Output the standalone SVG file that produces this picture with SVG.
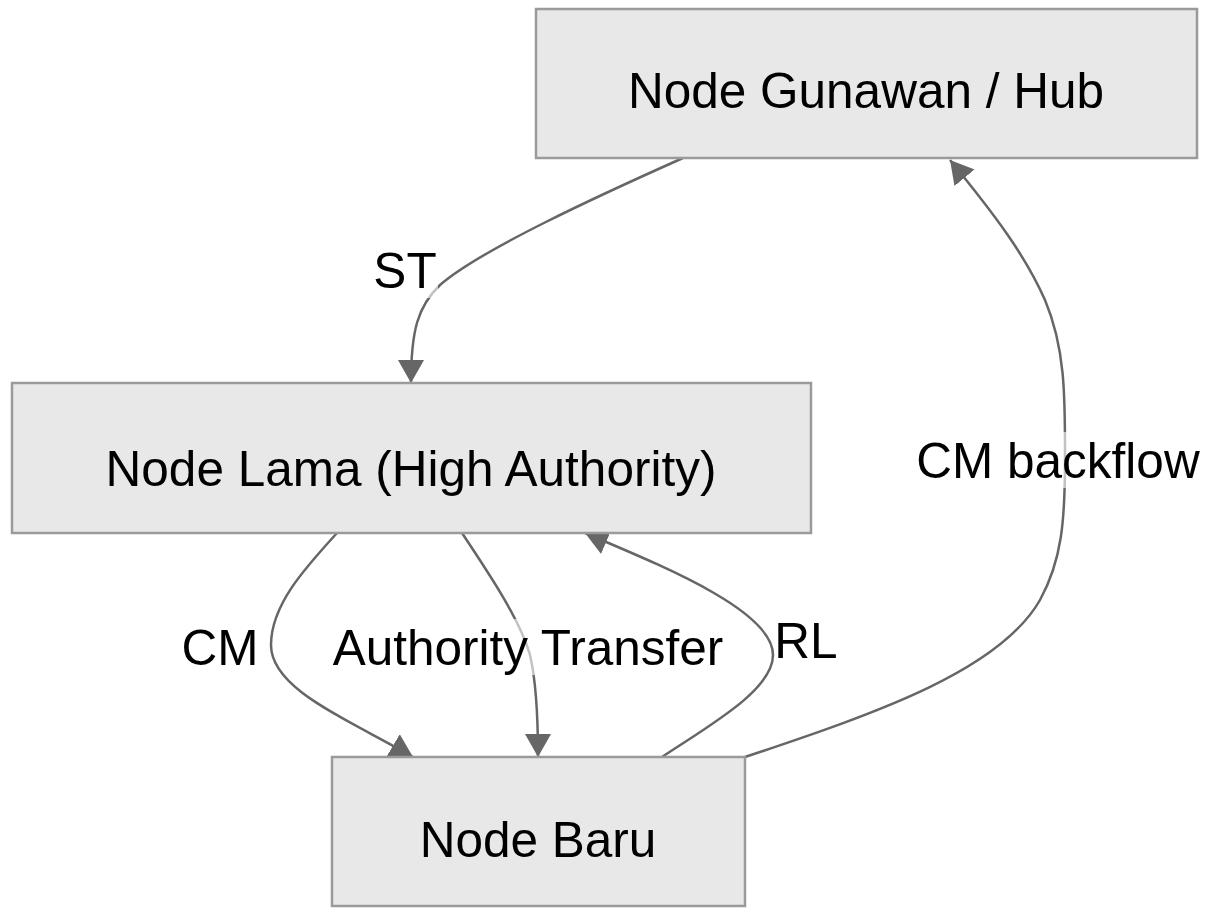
<svg xmlns="http://www.w3.org/2000/svg" width="1209" height="909" viewBox="0 0 1209 909">
<style>
.node rect{fill:#e8e8e8;stroke:#9a9a9a;stroke-width:2.5}
.lbl{font-family:"Liberation Sans",Arial,sans-serif;font-size:49.5px;fill:#000;text-anchor:middle}
.edge{fill:none;stroke:#666;stroke-width:2.5}
.lbg{fill:#fff;fill-opacity:0.6}
</style>
<defs>
<marker id="arr" markerUnits="userSpaceOnUse" markerWidth="24" markerHeight="26" refX="23" refY="13" orient="auto" viewBox="0 0 24 26">
<path d="M0,0 L23,13 L0,26 z" fill="#666"/>
</marker>
</defs>
<rect width="1209" height="909" fill="#fff"/>
<g id="edges">
<path class="edge" d="M683,158 C600,195 480,250 440,285 C418,306 411,330 411,383" marker-end="url(#arr)"/>
<path class="edge" d="M337,533 C305,568 271,605 271,645 C271,690 350,720 413,757" marker-end="url(#arr)"/>
<path class="edge" d="M462,533 C490,575 520,620 530,655 C537,685 538,720 538,757" marker-end="url(#arr)"/>
<path class="edge" d="M662,757 C710,725 773,690 773,655 C773,610 660,565 585,533" marker-end="url(#arr)"/>
<path class="edge" d="M745,757 C880,712 1000,670 1040,600 C1062,560 1065,520 1065,460 C1065,400 1066,350 1045,300 C1025,255 995,215 950,160" marker-end="url(#arr)"/>
</g>
<g id="edge-labels">
<rect class="lbg" x="374" y="242" width="64" height="56"/>
<text class="lbl" x="405" y="288">ST</text>
<rect class="lbg" x="184" y="619" width="72" height="56"/>
<text class="lbl" x="220" y="665">CM</text>
<rect class="lbg" x="328" y="619" width="402" height="56"/>
<text class="lbl" x="528" y="665">Authority Transfer</text>
<rect class="lbg" x="777" y="612" width="60" height="56"/>
<text class="lbl" x="806" y="658">RL</text>
<rect class="lbg" x="916" y="432" width="284" height="56"/>
<text class="lbl" x="1058" y="478">CM backflow</text>
</g>
<g id="node-gunawan" class="node">
<rect x="536" y="9" width="661" height="149"/>
<text class="lbl" x="866" y="108">Node Gunawan / Hub</text>
</g>
<g id="node-lama" class="node">
<rect x="12" y="383" width="799" height="150"/>
<text class="lbl" x="411" y="486">Node Lama (High Authority)</text>
</g>
<g id="node-baru" class="node">
<rect x="332" y="757" width="413" height="149"/>
<text class="lbl" x="538" y="857">Node Baru</text>
</g>
</svg>
